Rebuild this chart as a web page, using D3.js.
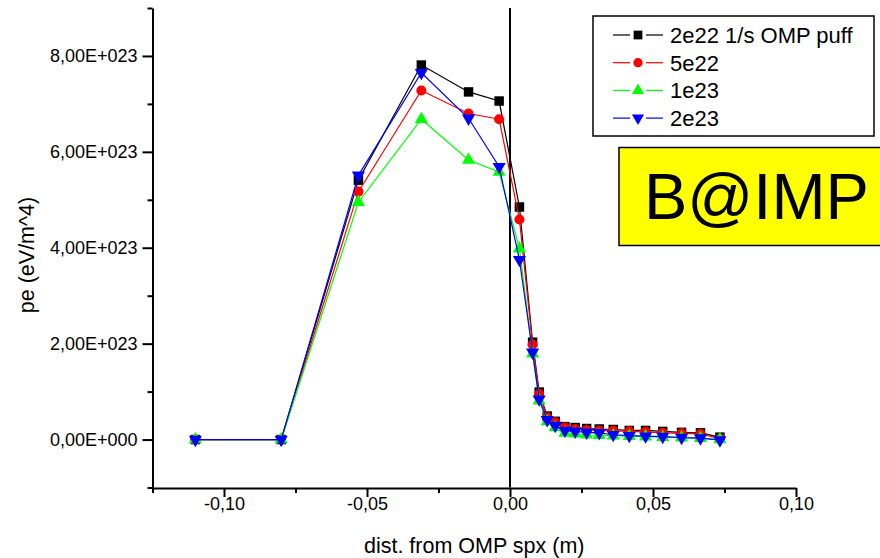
<!DOCTYPE html>
<html>
<head>
<meta charset="utf-8">
<script src="https://cdn.jsdelivr.net/npm/d3@7"></script>
<style>
  body { margin: 0; background: #fff; }
  svg { display: block; font-family: "Liberation Sans", Arial, sans-serif; }
</style>
</head>
<body>
<svg id="chart" width="880" height="558"></svg>
<script>
// distance from OMP separatrix (m), shared by all series
var distX = [-0.110, -0.080, -0.053, -0.031, -0.0145, -0.0038, 0.0033, 0.0079, 0.0102, 0.0130, 0.0158,
             0.0192, 0.0228, 0.0268, 0.0312, 0.0361, 0.0417, 0.0474, 0.0534, 0.0600, 0.0666, 0.0734];

// pe (eV/m^4), one array per puff rate
var pe2e22 = [0, 0, 5.41e23, 7.81e23, 7.25e23, 7.06e23, 4.85e23, 2.03e23, 0.99e23, 0.49e23, 0.38e23,
              0.27e23, 0.25e23, 0.23e23, 0.22e23, 0.21e23, 0.19e23, 0.19e23, 0.17e23, 0.15e23, 0.14e23, 0.05e23];
var pe5e22 = [0, 0, 5.17e23, 7.28e23, 6.80e23, 6.68e23, 4.59e23, 1.98e23, 0.95e23, 0.46e23, 0.36e23,
              0.25e23, 0.22e23, 0.20e23, 0.19e23, 0.18e23, 0.17e23, 0.16e23, 0.14e23, 0.13e23, 0.12e23, 0.02e23];
var pe1e23 = [0, 0, 4.95e23, 6.68e23, 5.83e23, 5.58e23, 3.98e23, 1.79e23, 0.81e23, 0.38e23, 0.25e23,
              0.14e23, 0.12e23, 0.10e23, 0.09e23, 0.08e23, 0.07e23, 0.06e23, 0.05e23, 0.04e23, 0.03e23, 0.00e23];
var pe2e23 = [0, 0, 5.51e23, 7.65e23, 6.70e23, 5.69e23, 3.75e23, 1.82e23, 0.84e23, 0.41e23, 0.29e23,
              0.19e23, 0.17e23, 0.15e23, 0.14e23, 0.10e23, 0.08e23, 0.07e23, 0.06e23, 0.04e23, 0.03e23, -0.01e23];

var seriesNames = ["2e22 1/s OMP puff", "5e22", "1e23", "2e23"];

var xMajorTicks = [-0.10, -0.05, 0.00, 0.05, 0.10];
var xMinorTicks = [-0.125, -0.075, -0.025, 0.025, 0.075];
var xTickLabels = ["-0,10", "-0,05", "0,00", "0,05", "0,10"];
var yMajorTicks = [0, 2e23, 4e23, 6e23, 8e23];
var yMinorTicks = [-1e23, 1e23, 3e23, 5e23, 7e23, 9e23];
var yTickLabels = ["0,00E+000", "2,00E+023", "4,00E+023", "6,00E+023", "8,00E+023"];

var allSeries = [pe2e22, pe5e22, pe1e23, pe2e23];
var colors = ["#000000", "#ff0000", "#00ff00", "#0000ff"];
var symbols = [d3.symbolSquare, d3.symbolCircle, d3.symbolTriangle, d3.symbolTriangle];
var symSizes = [90, 80, 75, 75];
var rotations = [0, 0, 0, 180];

var svg = d3.select("#chart");

var x = d3.scaleLinear().domain([-0.125, 0.10]).range([152.5, 796]);
var y = d3.scaleLinear().domain([-1e23, 9e23]).range([487.5, 8]);

// axes
svg.append("g").attr("transform", "translate(0,488)")
  .call(d3.axisBottom(x).tickValues(xMajorTicks).tickSize(9).tickSizeOuter(0).tickPadding(0)
    .tickFormat(function(d, i){ return xTickLabels[i]; }));
svg.append("g").attr("transform", "translate(0,488)")
  .call(d3.axisBottom(x).tickValues(xMinorTicks).tickSize(5).tickFormat(""))
  .select(".domain").remove();

svg.append("g").attr("transform", "translate(152.5,0)")
  .call(d3.axisLeft(y).tickValues(yMajorTicks).tickSize(10).tickSizeOuter(0).tickPadding(5)
    .tickFormat(function(d, i){ return yTickLabels[i]; }));
svg.append("g").attr("transform", "translate(152.5,0)")
  .call(d3.axisLeft(y).tickValues(yMinorTicks).tickSize(5).tickFormat(""))
  .select(".domain").remove();

svg.selectAll(".domain, .tick line").attr("stroke", "#000").attr("stroke-width", 2);
svg.selectAll(".tick text").attr("fill", "#000").style("font-size", "18px");

// vertical line at separatrix
svg.append("line")
  .attr("x1", x(0)).attr("x2", x(0))
  .attr("y1", y(9e23)).attr("y2", y(-1e23))
  .attr("stroke", "#000").attr("stroke-width", 2);

// axis titles
svg.append("text")
  .attr("x", (x(-0.125) + x(0.10)) / 2).attr("y", 553)
  .attr("text-anchor", "middle").style("font-size", "21.5px")
  .text("dist. from OMP spx (m)");
svg.append("text")
  .attr("transform", "translate(34,255) rotate(-90)")
  .attr("text-anchor", "middle").style("font-size", "21.5px")
  .text("pe (eV/m^4)");

// series
var line = d3.line().x(function(d){ return x(d[0]); }).y(function(d){ return y(d[1]); });

allSeries.forEach(function(vals, s){
  var pts = vals.map(function(v, i){ return [distX[i], v]; });
  var g = svg.append("g");
  g.append("path").datum(pts)
    .attr("d", line).attr("fill", "none")
    .attr("stroke", colors[s]).attr("stroke-width", 1.2);
  g.selectAll("path.sym").data(pts).enter().append("path")
    .attr("class", "sym")
    .attr("d", d3.symbol().type(symbols[s]).size(symSizes[s]))
    .attr("transform", function(d){
      return "translate(" + x(d[0]) + "," + y(d[1]) + ") rotate(" + rotations[s] + ")";
    })
    .attr("fill", colors[s]);
});

// legend
var legend = svg.append("g");
legend.append("rect")
  .attr("x", 593).attr("y", 16).attr("width", 281).attr("height", 120)
  .attr("fill", "#fff").attr("stroke", "#000").attr("stroke-width", 1.5);
seriesNames.forEach(function(name, s){
  var ly = 35 + s * 27.7;
  legend.append("line").attr("x1", 613).attr("x2", 630).attr("y1", ly).attr("y2", ly)
    .attr("stroke", colors[s]).attr("stroke-width", 1.2);
  legend.append("line").attr("x1", 646).attr("x2", 663).attr("y1", ly).attr("y2", ly)
    .attr("stroke", colors[s]).attr("stroke-width", 1.2);
  legend.append("path")
    .attr("d", d3.symbol().type(symbols[s]).size(symSizes[s] * 0.85))
    .attr("transform", "translate(638," + ly + ") rotate(" + rotations[s] + ")")
    .attr("fill", colors[s]);
  legend.append("text").attr("x", 670).attr("y", ly + 8)
    .style("font-size", "22px").text(name);
});

// annotation box
svg.append("rect")
  .attr("x", 619).attr("y", 147.5).attr("width", 270).attr("height", 98)
  .attr("fill", "#ffff00").attr("stroke", "#000").attr("stroke-width", 1.5);
svg.append("text")
  .attr("x", 644).attr("y", 219)
  .style("font-size", "65px").text("B@IMP");
</script>
</body>
</html>
